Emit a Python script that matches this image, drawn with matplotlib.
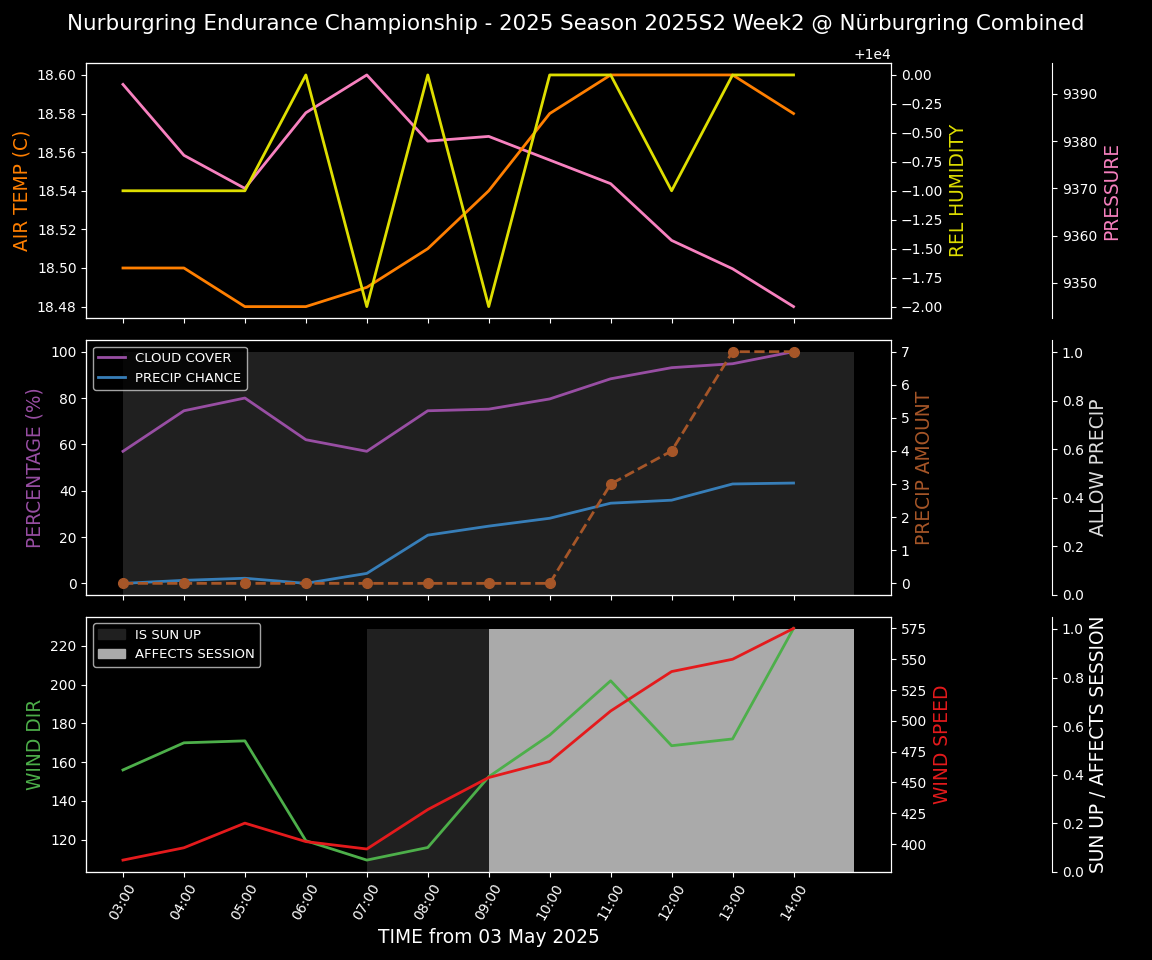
import datetime as dt
import matplotlib
matplotlib.use("Agg")
import matplotlib.pyplot as plt
import matplotlib.dates as mdates
from matplotlib.patches import Patch

plt.style.use("dark_background")

# hourly samples, 03:00 .. 14:00 on 03 May 2025
start = dt.datetime(2025, 5, 3, 3, 0)
times = [start + dt.timedelta(hours=h) for h in range(12)]
fill_times = times + [start + dt.timedelta(hours=12)]

air_temp = [18.50, 18.50, 18.48, 18.48, 18.49, 18.51, 18.54, 18.58, 18.60, 18.60, 18.60, 18.58]
rel_humidity = [9999, 9999, 9999, 10000, 9998, 10000, 9998, 10000, 10000, 9999, 10000, 10000]
pressure = [9392, 9377, 9370, 9386, 9394, 9380, 9381, 9376, 9371, 9359, 9353, 9345]

cloud_cover = [57, 74.5, 80, 62, 57, 74.5, 75.2, 79.6, 88.3, 93.1, 94.8, 100]
precip_chance = [0, 1.3, 2.2, 0, 4.3, 20.8, 24.7, 28.1, 34.6, 35.9, 42.9, 43.3]
precip_amount = [0, 0, 0, 0, 0, 0, 0, 0, 3, 4, 7, 7]
allow_precip = [1, 1, 1, 1, 1, 1, 1, 1, 1, 1, 1, 1, 1]

wind_dir = [156, 170, 171, 119.5, 109.5, 116, 152.5, 174, 202, 168.5, 172, 229]
wind_speed = [387, 397, 417, 402, 396, 428, 454, 467, 508, 540, 550, 575]
sun_up = [0, 0, 0, 0, 1, 1, 1, 1, 1, 1, 1, 1, 1]
affects_session = [0, 0, 0, 0, 0, 0, 1, 1, 1, 1, 1, 1, 1]

C_ORANGE = "#ff7f00"
C_YELLOW = "#dede00"
C_PINK = "#f781bf"
C_PURPLE = "#984ea3"
C_BLUE = "#377eb8"
C_BROWN = "#a65628"
C_GREEN = "#4daf4a"
C_RED = "#e41a1c"
LBL = 13.4

fig, axes = plt.subplots(3, 1, figsize=(11.52, 9.6), dpi=100, sharex=True)
fig.subplots_adjust(left=0.075, right=0.7735, top=0.934, bottom=0.092, hspace=0.086)
fig.suptitle("Nurburgring Endurance Championship - 2025 Season 2025S2 Week2 @ Nürburgring Combined",
             fontsize=15.4, y=0.985)


def make_twins(ax):
    tw = ax.twinx()
    third = ax.twinx()
    third.spines["right"].set_position(("axes", 1.2))
    third.set_zorder(1)
    ax.set_zorder(2)
    tw.set_zorder(3)
    ax.patch.set_visible(False)
    tw.patch.set_visible(False)
    return tw, third


# --- panel 1: temperature / humidity / pressure
ax = axes[0]
tw, third = make_twins(ax)
ax.plot(times, air_temp, color=C_ORANGE, lw=2)
tw.plot(times, rel_humidity, color=C_YELLOW, lw=2)
third.plot(times, pressure, color=C_PINK, lw=2)
ax.set_ylabel("AIR TEMP (C)", color=C_ORANGE, fontsize=LBL)
tw.set_ylabel("REL HUMIDITY", color=C_YELLOW, fontsize=LBL)
third.set_ylabel("PRESSURE", color=C_PINK, fontsize=LBL)

# --- panel 2: clouds / precipitation
ax = axes[1]
tw, third = make_twins(ax)
third.fill_between(fill_times, 0, allow_precip, step="post", color="#202020", lw=0)
third.set_ylim(0, 1.05)
ax.plot(times, cloud_cover, color=C_PURPLE, lw=2, label="CLOUD COVER")
ax.plot(times, precip_chance, color=C_BLUE, lw=2, label="PRECIP CHANCE")
tw.plot(times, precip_amount, "o--", color=C_BROWN, lw=2, ms=7)
ax.set_ylabel("PERCENTAGE (%)", color=C_PURPLE, fontsize=LBL)
tw.set_ylabel("PRECIP AMOUNT", color=C_BROWN, fontsize=LBL)
third.set_ylabel("ALLOW PRECIP", color="#dddddd", fontsize=LBL)
ax.legend(loc="upper left", fontsize=9.5)

# --- panel 3: wind / sun / session
ax = axes[2]
tw, third = make_twins(ax)
third.fill_between(fill_times, 0, sun_up, step="post", color="#202020", lw=0)
third.fill_between(fill_times, 0, affects_session, step="post", color="#aaaaaa", lw=0)
third.set_ylim(0, 1.05)
ax.plot(times, wind_dir, color=C_GREEN, lw=2)
tw.plot(times, wind_speed, color=C_RED, lw=2)
ax.set_ylabel("WIND DIR", color=C_GREEN, fontsize=LBL)
tw.set_ylabel("WIND SPEED", color=C_RED, fontsize=LBL)
third.set_ylabel("SUN UP / AFFECTS SESSION", color="white", fontsize=LBL)
handles = [Patch(color="#202020", label="IS SUN UP"), Patch(color="#aaaaaa", label="AFFECTS SESSION")]
ax.legend(handles=handles, loc="upper left", fontsize=9.5)

ax.set_xticks(times)
ax.xaxis.set_major_formatter(mdates.DateFormatter("%H:%M"))
for lbl in ax.get_xticklabels():
    lbl.set_rotation(60)
ax.set_xlabel("TIME from 03 May 2025", fontsize=LBL)

fig.savefig("out.png", dpi=100, facecolor="black")
